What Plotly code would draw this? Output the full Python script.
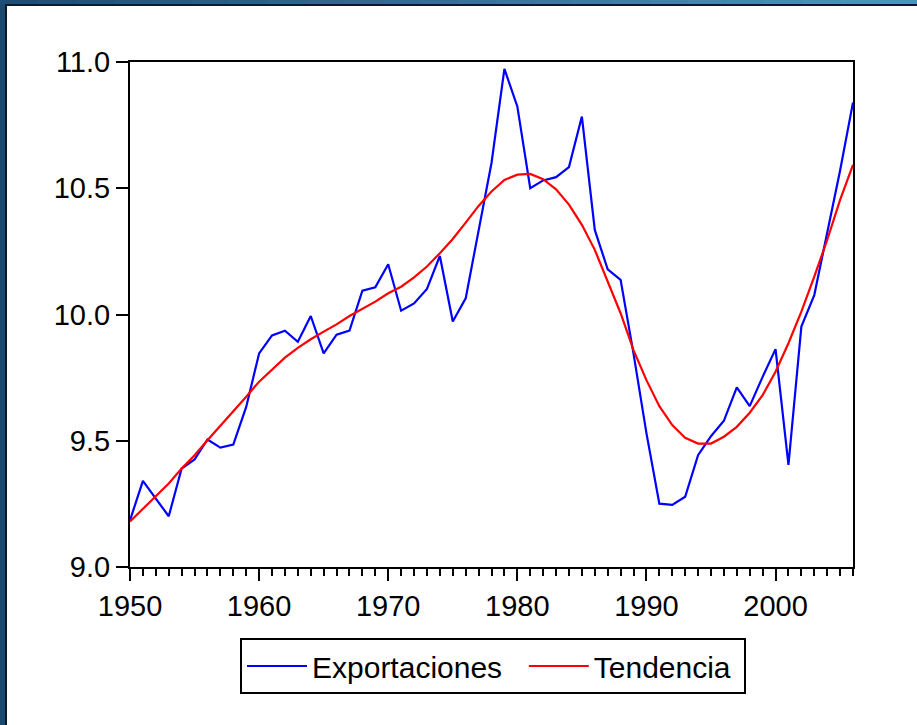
import plotly.graph_objects as go

years = list(range(1950, 2007))

exportaciones = [9.185, 9.341, 9.271, 9.201, 9.390, 9.426, 9.505, 9.473, 9.485, 9.634,
                 9.846, 9.917, 9.936, 9.892, 9.994, 9.846, 9.920, 9.936, 10.094, 10.108,
                 10.199, 10.015, 10.044, 10.101, 10.232, 9.972, 10.064, 10.328, 10.600, 10.973,
                 10.824, 10.500, 10.531, 10.544, 10.584, 10.784, 10.335, 10.179, 10.137, 9.845,
                 9.530, 9.251, 9.246, 9.278, 9.443, 9.518, 9.579, 9.711, 9.637, 9.753,
                 9.863, 9.404, 9.952, 10.077, 10.320, 10.570, 10.840]

tendencia = [9.180, 9.231, 9.280, 9.331, 9.390, 9.443, 9.502, 9.558, 9.615, 9.674,
             9.734, 9.783, 9.829, 9.868, 9.902, 9.932, 9.961, 9.994, 10.022, 10.051,
             10.084, 10.110, 10.147, 10.190, 10.243, 10.299, 10.364, 10.430, 10.487, 10.533,
             10.554, 10.557, 10.536, 10.496, 10.435, 10.355, 10.256, 10.130, 10.005, 9.859,
             9.740, 9.637, 9.562, 9.512, 9.489, 9.489, 9.516, 9.555, 9.611, 9.681,
             9.773, 9.886, 10.011, 10.150, 10.295, 10.454, 10.593]

y_ticks = [9.0, 9.5, 10.0, 10.5, 11.0]
y_ticklabels = ["9.0", "9.5", "10.0", "10.5", "11.0"]
x_ticks = [1950, 1960, 1970, 1980, 1990, 2000]

W, H = 917, 725
L, R, T, B = 130, 64, 62, 158
PW, PH = W - L - R, H - T - B

def px_x(p):
    return (p - L) / PW

def px_y(p):
    return (H - B - p) / PH

NBSP = "\u00a0"

fig = go.Figure()
fig.add_trace(go.Scatter(x=years, y=exportaciones, mode="lines", name="Exportaciones" + NBSP * 2,
                         hovertemplate="Exportaciones: %{y}<extra></extra>",
                         line=dict(color="#0000ff", width=2.2)))
fig.add_trace(go.Scatter(x=years, y=tendencia, mode="lines", name="Tendencia" + NBSP,
                         hovertemplate="Tendencia: %{y}<extra></extra>",
                         line=dict(color="#ff0000", width=2.2)))

shapes = []
# window frame: left border and gradient top bar
shapes.append(dict(type="rect", xref="paper", yref="paper", x0=px_x(0), x1=px_x(5),
                   y0=px_y(H), y1=px_y(0), fillcolor="#1b4a70", line=dict(width=0), layer="above"))
shapes.append(dict(type="rect", xref="paper", yref="paper", x0=px_x(5), x1=px_x(7),
                   y0=px_y(H), y1=px_y(4), fillcolor="#0a1a28", line=dict(width=0), layer="above"))
nseg = 24
c0 = (0x1d, 0x4e, 0x78)
c1 = (0x45, 0x98, 0xbd)
for i in range(nseg):
    t = i / (nseg - 1)
    c = tuple(int(round(a + (b - a) * t)) for a, b in zip(c0, c1))
    shapes.append(dict(type="rect", xref="paper", yref="paper",
                       x0=px_x(W * i / nseg), x1=px_x(W * (i + 1) / nseg + 1),
                       y0=px_y(4), y1=px_y(0), fillcolor="rgb(%d,%d,%d)" % c,
                       line=dict(width=0), layer="above"))
shapes.append(dict(type="rect", xref="paper", yref="paper", x0=px_x(5), x1=px_x(W),
                   y0=px_y(6), y1=px_y(4), fillcolor="#0a1a28", line=dict(width=0), layer="above"))

fig.update_layout(
    width=W, height=H,
    margin=dict(l=L, r=R, t=T, b=B, pad=0),
    paper_bgcolor="white", plot_bgcolor="white",
    font=dict(family="Liberation Sans, Arial, sans-serif", size=29, color="black"),
    showlegend=True,
    legend=dict(orientation="h", x=px_x(240), y=px_y(638), xanchor="left", yanchor="top",
                bordercolor="black", borderwidth=2, bgcolor="white",
                font=dict(size=30), itemwidth=60, tracegroupgap=0),
    shapes=shapes,
    xaxis=dict(range=[1950, 2006], tickvals=x_ticks, ticks="outside", ticklen=12, tickwidth=2,
               tickcolor="black", showline=True, linecolor="black", linewidth=2, mirror=True,
               showgrid=False, zeroline=False,
               minor=dict(ticks="outside", dtick=1, tick0=1950, ticklen=7, tickwidth=1.5,
                          tickcolor="black", showgrid=False)),
    yaxis=dict(range=[9.0, 11.0], tickvals=y_ticks, ticktext=y_ticklabels, ticks="outside",
               ticklen=12, tickwidth=2, tickcolor="black", showline=True, linecolor="black",
               linewidth=2, mirror=True, showgrid=False, zeroline=False),
)

fig.write_html("out.html", config={"displayModeBar": False},
               post_script="document.body.style.margin='0px';document.body.style.padding='0px';")
